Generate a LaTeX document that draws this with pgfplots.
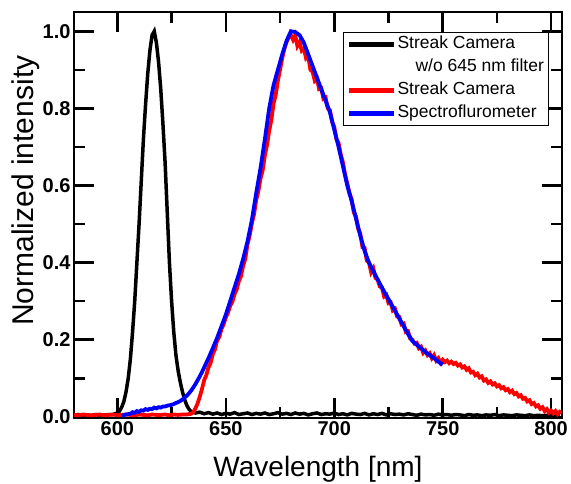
\documentclass[border=0pt]{standalone}
\usepackage{fontspec}
\setmainfont{Liberation Sans}
\usepackage{pgfplots}
\pgfplotsset{compat=1.18}
\begin{document}
\begin{tikzpicture}
\begin{axis}[
  scale only axis, width=488pt, height=406pt,
  xmin=580, xmax=805, ymin=-0.003, ymax=1.05,
  xtick={600,650,700,750,800}, minor x tick num=1,
  ytick={0,0.2,0.4,0.6,0.8,1.0}, minor y tick num=1,
  yticklabel style={/pgf/number format/fixed,/pgf/number format/fixed zerofill,/pgf/number format/precision=1},
  /pgf/number format/assume math mode=true,
  tick label style={font=\fontsize{20}{20}\selectfont\bfseries},
  tick align=inside, major tick length=20pt, minor tick length=11pt,
  every tick/.style={line width=2.5pt, black},
  axis line style={line width=2.5pt},
  xlabel={Wavelength [nm]}, ylabel={Normalized intensity},
  every axis x label/.style={at={(axis description cs:0.5,0)}, anchor=base, yshift=-59pt, font=\fontsize{28}{28}\selectfont},
  every axis y label/.style={at={(axis description cs:-0.084,0.56)}, rotate=90, anchor=base, font=\fontsize{30}{30}\selectfont},
  legend cell align=left,
  legend image code/.code={\draw[#1, line width=4.5pt] (0pt,0pt) -- (45pt,0pt);},
  legend style={at={(axis description cs:0.973,0.951)}, anchor=north east,
    draw=black, line width=0.8pt, fill=white, inner xsep=3pt, inner ysep=2pt,
    font=\fontsize{17.5}{17.5}\selectfont, row sep=3pt,
    nodes={inner sep=1.5pt, text height=13pt, text depth=4pt}},
]
\addplot[black, line width=3.5pt] coordinates {
(580,0.004)(582,0.006)(584,0.004)(586,0.005)(588,0.003)(590,0.006)(592,0.004)(594,0.005)(596,0.006)(598,0.006)
(600,0.01)(601,0.015)(602,0.025)(603,0.04)(604,0.065)(605,0.1)(606,0.15)(607,0.22)(608,0.3)(609,0.4)
(610,0.5)(611,0.61)(612,0.72)(613,0.81)(614,0.89)(615,0.95)(616,0.99)(617,1.0)(618,0.97)(619,0.92)
(620,0.85)(621,0.76)(622,0.66)(623,0.53)(624,0.4)(625,0.3)(626,0.22)(627,0.16)(628,0.12)(629,0.09)
(630,0.065)(631,0.045)(632,0.03)(633,0.02)(634,0.014)(636,0.01)(638,0.012)(640,0.008)(642,0.011)(644,0.007)
(646,0.01)(648,0.006)(650,0.009)(652,0.007)(654,0.011)(656,0.006)(658,0.008)(660,0.01)(662,0.006)(664,0.009)
(666,0.007)(668,0.01)(670,0.006)(672,0.008)(674,0.011)(676,0.007)(678,0.009)(680,0.006)(682,0.01)(684,0.007)
(686,0.009)(688,0.005)(690,0.008)(692,0.01)(694,0.006)(696,0.008)(698,0.007)(700,0.01)(702,0.006)(704,0.008)
(706,0.005)(708,0.009)(710,0.007)(712,0.006)(714,0.009)(716,0.005)(718,0.008)(720,0.006)(722,0.009)(724,0.005)
(726,0.008)(728,0.006)(730,0.007)(732,0.005)(734,0.008)(736,0.006)(738,0.004)(740,0.007)(742,0.005)(744,0.006)
(746,0.004)(748,0.007)(750,0.005)(752,0.006)(754,0.004)(756,0.006)(758,0.005)(760,0.003)(762,0.006)(764,0.004)
(766,0.005)(768,0.003)(770,0.005)(772,0.004)(774,0.006)(776,0.003)(778,0.005)(780,0.004)(782,0.003)(784,0.005)
(786,0.004)(788,0.003)(790,0.005)(792,0.003)(794,0.004)(796,0.003)(798,0.004)(800,0.003)(802,0.004)(804,0.003)
};
\addlegendentry{Streak Camera}
\addlegendimage{empty legend}
\addlegendentry{\hspace*{18pt}w/o 645 nm filter}
\addplot[red, line width=3.8pt] coordinates {
(580,0.005)(582,0.004)(584,0.006)(586,0.005)(588,0.004)(590,0.005)(592,0.006)(594,0.004)(596,0.005)(598,0.006)
(600,0.004)(602,0.005)(604,0.006)(606,0.005)(608,0.004)(610,0.006)(612,0.005)(614,0.004)(616,0.006)(618,0.005)
(620,0.005)(622,0.006)(624,0.004)(626,0.006)(628,0.005)(630,0.006)(632,0.006)
(634,0.008)(635,0.012)(636,0.022)(637,0.035)(638,0.052)(639,0.072)(640,0.095)(641,0.108)(642,0.128)(643,0.14)
(644,0.163)(645,0.175)(646,0.198)(647,0.207)(648,0.228)(649,0.24)(650,0.258)(651,0.27)(652,0.288)(653,0.298)
(654,0.318)(655,0.33)(656,0.352)(657,0.365)(658,0.392)(659,0.41)(660,0.448)(661,0.47)(662,0.502)(663,0.525)
(664,0.562)(665,0.585)(666,0.618)(667,0.64)(668,0.678)(669,0.705)(670,0.742)(671,0.77)(672,0.812)(673,0.835)
(674,0.872)(675,0.9)(676,0.93)(677,0.955)(678,0.972)(679,0.985)(680,0.99)(681,0.978)(682,0.99)(683,0.962)
(684,0.972)(685,0.95)(686,0.955)(687,0.93)(688,0.935)(689,0.9)(690,0.895)(691,0.872)(692,0.878)(693,0.85)
(694,0.852)(695,0.825)(696,0.828)(697,0.8)(698,0.795)(699,0.765)(700,0.752)(701,0.72)(702,0.71)(703,0.68)
(704,0.66)(705,0.628)(706,0.605)(707,0.58)(708,0.565)(709,0.53)(710,0.52)(711,0.488)(712,0.475)(713,0.44)
(714,0.438)(715,0.405)(716,0.4)(717,0.375)(718,0.385)(719,0.36)(720,0.356)(721,0.338)(722,0.335)(723,0.312)
(724,0.316)(725,0.295)(726,0.297)(727,0.276)(728,0.28)(729,0.26)(730,0.259)(731,0.24)(732,0.242)(733,0.22)
(734,0.222)(735,0.203)(736,0.2)(737,0.19)(738,0.192)(739,0.178)(740,0.182)(741,0.166)(742,0.172)(743,0.16)
(744,0.165)(745,0.152)(746,0.16)(747,0.146)(748,0.152)(749,0.14)(750,0.148)(751,0.142)(752,0.146)(753,0.139)
(754,0.143)(755,0.137)(756,0.14)(757,0.133)(758,0.136)(759,0.128)(760,0.131)(761,0.122)(762,0.126)(763,0.115)
(764,0.117)(765,0.108)(766,0.112)(767,0.102)(768,0.105)(769,0.094)(770,0.097)(771,0.088)(772,0.092)(773,0.084)
(774,0.087)(775,0.079)(776,0.082)(777,0.074)(778,0.077)(779,0.069)(780,0.072)(781,0.064)(782,0.068)(783,0.059)
(784,0.062)(785,0.053)(786,0.056)(787,0.047)(788,0.049)(789,0.04)(790,0.043)(791,0.033)(792,0.036)(793,0.027)
(794,0.03)(795,0.021)(796,0.025)(797,0.015)(798,0.02)(799,0.011)(800,0.016)(801,0.009)(802,0.015)(803,0.007)
(804,0.013)(805,0.01)
};
\addlegendentry{Streak Camera}
\addplot[blue, line width=3.8pt] coordinates {
(602,0.003)(604,0.006)(606,0.008)(607,0.012)(608,0.01)(609,0.015)(610,0.013)(611,0.017)(612,0.016)(613,0.02)
(614,0.018)(615,0.021)(616,0.02)(617,0.024)(618,0.022)(619,0.025)(620,0.024)(621,0.027)(622,0.027)(623,0.029)
(624,0.03)(625,0.031)(626,0.033)(627,0.036)(628,0.038)(629,0.041)(630,0.045)(631,0.05)(632,0.055)(633,0.061)
(634,0.068)(635,0.076)(636,0.085)(637,0.095)(638,0.105)(639,0.116)(640,0.128)(642,0.152)(644,0.178)(646,0.205)
(648,0.235)(650,0.265)(652,0.3)(654,0.335)(656,0.37)(658,0.41)(660,0.455)(662,0.51)(664,0.58)(666,0.645)
(668,0.72)(670,0.8)(672,0.86)(674,0.9)(676,0.94)(678,0.975)(680,1.0)(682,0.998)(684,0.99)(686,0.97)
(688,0.94)(690,0.91)(692,0.88)(694,0.85)(696,0.82)(698,0.79)(700,0.745)(702,0.7)(704,0.65)(706,0.6)
(708,0.56)(710,0.515)(712,0.47)(714,0.43)(716,0.4)(718,0.378)(720,0.356)(722,0.335)(724,0.315)(726,0.295)
(728,0.275)(730,0.255)(732,0.235)(734,0.215)(736,0.197)(738,0.187)(740,0.178)(742,0.168)(744,0.16)(746,0.152)
(748,0.143)(750,0.135)
};
\addlegendentry{Spectroflurometer}
\end{axis}
\pgfresetboundingbox
\path ([shift={(-74pt,-66pt)}]current axis.south west) rectangle ([shift={(9pt,12pt)}]current axis.north east);
\end{tikzpicture}
\end{document}
